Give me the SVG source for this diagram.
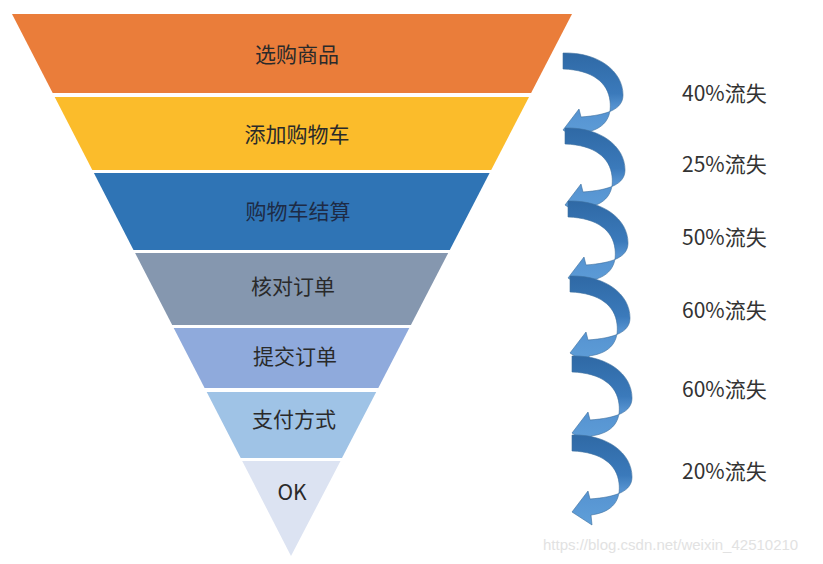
<svg xmlns="http://www.w3.org/2000/svg" width="823" height="564" viewBox="0 0 823 564">
<style>
.lbl{font-family:"Noto Sans CJK SC","Noto Sans",sans-serif;font-size:21px;fill:#2a2a2a;text-anchor:middle}
.loss{font-family:"Noto Sans CJK SC","Noto Sans",sans-serif;font-size:21px;fill:#333333}
.arr{fill:url(#ag);stroke:#3d6e9e;stroke-width:0.6}
.wm{font-family:"Liberation Sans",Arial,sans-serif;font-size:15px;fill:#e2e2e2}
</style>
<defs>
<linearGradient id="ag" x1="0" y1="0" x2="0" y2="1">
<stop offset="0" stop-color="#2f69a5"/>
<stop offset="0.45" stop-color="#3b7abb"/>
<stop offset="0.6" stop-color="#5592d0"/>
<stop offset="1" stop-color="#5f9fd9"/>
</linearGradient>
<path id="curl" d="M0,0 C35,-1 60,18 60,42 C60,56 45,62 18,64 L16,56 L0,77 L20,90 L19,80 C42,77 49,64 47,48 C45,30 30,17 0,16 Z"/>
</defs>
<rect width="823" height="564" fill="#ffffff"/>
<g id="stage1"><polygon points="12,14 572,14 531.1,93 52.7,93" fill="#ea7d3a"/><text class="lbl" x="297" y="62">选购商品</text></g>
<g id="stage2"><polygon points="54.7,97 529,97 491.2,170 92.3,170" fill="#fbbc2b"/><text class="lbl" x="297" y="142">添加购物车</text></g>
<g id="stage3"><polygon points="93.9,173 489.6,173 449.8,250 133.5,250" fill="#2f74b5"/><text class="lbl" x="298" y="219" style="fill:#1e2b45">购物车结算</text></g>
<g id="stage4"><polygon points="135.1,253 448.2,253 410.9,325 172.2,325" fill="#8597af"/><text class="lbl" x="293" y="294">核对订单</text></g>
<g id="stage5"><polygon points="173.7,328 409.3,328 378.3,388 204.6,388" fill="#8faadc"/><text class="lbl" x="295" y="364">提交订单</text></g>
<g id="stage6"><polygon points="206.7,392 376.2,392 342,458 240.7,458" fill="#9fc3e6"/><text class="lbl" x="294" y="427">支付方式</text></g>
<g id="stage7"><polygon points="242.2,461 340.5,461 291,556" fill="#dce3f2"/><text class="lbl" x="292" y="500">OK</text></g>
<g id="connectors">
<use href="#curl" class="arr" transform="translate(563,53)"/>
<use href="#curl" class="arr" transform="translate(565,128)"/>
<use href="#curl" class="arr" transform="translate(568,201)"/>
<use href="#curl" class="arr" transform="translate(570,276)"/>
<use href="#curl" class="arr" transform="translate(572,356)"/>
<use href="#curl" class="arr" transform="translate(572,435)"/>
</g>
<g id="losses">
<text class="loss" x="682" y="101">40%流失</text>
<text class="loss" x="682" y="172">25%流失</text>
<text class="loss" x="682" y="245">50%流失</text>
<text class="loss" x="682" y="318">60%流失</text>
<text class="loss" x="682" y="397">60%流失</text>
<text class="loss" x="682" y="479">20%流失</text>
</g>
<text class="wm" x="543" y="550">https://blog.csdn.net/weixin_42510210</text>
</svg>
